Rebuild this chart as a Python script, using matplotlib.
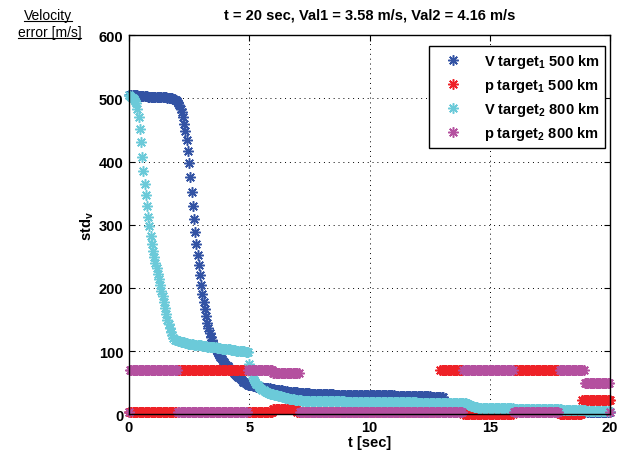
import numpy as np
import matplotlib
matplotlib.use('Agg')
import matplotlib.pyplot as plt
from matplotlib.lines import Line2D

plt.rcParams['font.family'] = ['Liberation Sans', 'DejaVu Sans']
plt.rcParams['mathtext.fontset'] = 'custom'
plt.rcParams['mathtext.bf'] = 'Liberation Sans:bold'
plt.rcParams['mathtext.rm'] = 'Liberation Sans'
plt.rcParams['mathtext.default'] = 'bf'

# sample times, 0.05 s step, 0 .. 20 sec
t = np.arange(401) * 0.05

# velocity std, target 1 (500 km)
v_target1 = (
    [505] * 8 + [504] * 8 + [503] * 8 + [502] * 8 + [501] * 4 + [500, 499, 498, 497]
    + [496, 493, 489, 484, 478, 470, 460, 448, 434, 417,
       397, 375, 352, 330, 309, 289, 270, 252, 236, 220,
       205, 191, 178, 166, 155, 145, 136, 129,
       122, 117, 112, 108, 104, 100, 97, 94, 91, 88,
       85, 83, 80, 78, 76, 74, 72, 70, 68, 66,
       64, 62, 61, 59, 57, 56, 54, 52, 51, 49,
       48, 47, 46]
    + [46, 46, 45, 45, 45, 44, 44, 44, 43, 43,
       43, 42, 42, 42, 41, 41, 41, 40, 40, 40,
       40, 39, 39, 39, 38, 38, 38, 37, 37, 37,
       37, 36, 36, 36, 36, 35, 35, 35, 35, 35]
    + [34] * 10 + [33] * 10 + [32] * 10 + [31] * 20 + [30] * 30 + [29] * 30 + [28] * 11
    + [16] * 19 + [14, 13, 12, 11, 10, 9, 9, 8, 8, 8] + [8] * 30
    + [7] * 20 + [6] * 20 + [5] * 20 + [4] * 19 + [3.58]
)

# velocity std, target 2 (800 km)
v_target2 = (
    [505, 504, 503, 501, 499, 496,
     492, 484, 470, 452, 431, 407, 385, 365, 347, 330,
     313, 298, 283, 270, 259, 249, 240, 231, 222, 214,
     205, 196, 187, 178, 169, 159, 150, 143, 137, 131,
     126, 121, 118, 117]
    + [117, 116, 116, 115, 115, 114, 114, 113, 113, 112,
       112, 112, 111, 111, 110, 110, 110, 109, 109, 109,
       109, 108, 108, 108, 108, 107, 107, 107, 107, 106,
       106, 106, 106, 105, 105, 105, 105, 104, 104, 104,
       104, 103, 103, 103, 103, 102, 102, 102, 102, 101,
       101, 101, 101, 100, 100, 100, 100, 99, 99, 99]
    + [80, 70, 63, 58, 54, 51, 48, 46, 44, 42,
       40, 39, 38, 37, 36, 35, 34, 33, 32.5, 32]
    + [31.5, 31, 30.5, 30, 29.5, 29, 28.5, 28, 27.5, 27,
       26.5, 26, 25.5, 25, 24.7, 24.4, 24.1, 23.8, 23.5, 23.2]
    + [23, 22.7, 22.4, 22.1, 21.8, 21.5, 21.3, 21.1, 21, 21] + [20.8] * 10
    + [20.5] * 20 + [20] * 20 + [19.5] * 20 + [19] * 20 + [18.5] * 20 + [18] * 20
    + [18, 17, 16, 15, 14, 13, 12.5, 12, 11.5, 11, 10.5, 10.5] + [10] * 8
    + [10] * 10 + [9.5] * 10 + [9] * 20 + [8] * 20 + [7] * 20
    + [6] * 10 + [5] * 10 + [4.16]
)

# position std: levels and how many samples each level lasts
p1_levels = [4, 70, 4, 8, 4, 70, 1, 70, 1, 22]
p1_counts = [40, 59, 21, 20, 119, 19, 42, 38, 19, 24]
p2_levels = [4, 70, 4, 70, 65, 3, 70, 3, 70, 50, 3]
p2_counts = [1, 40, 58, 21, 22, 136, 42, 38, 21, 21, 1]

p_target1 = np.repeat(p1_levels, p1_counts)
p_target2 = np.repeat(p2_levels, p2_counts)

labels = ['V target$_1$ 500 km', 'p target$_1$ 500 km',
          'V target$_2$ 800 km', 'p target$_2$ 800 km']
colors = ['#3353a4', '#ee2127', '#6bcad9', '#b4509f']

fig = plt.figure(figsize=(6.2, 4.6), dpi=100)
ax = fig.add_axes([0.208, 0.097, 0.776, 0.8243])

star = (8, 2, 0)
for y, lab, c in zip([v_target1, p_target1, v_target2, p_target2], labels, colors):
    ax.plot(t, y, linestyle='none', marker=star, markersize=7.5, markeredgewidth=1.1,
            color=c, markeredgecolor=c, label=lab, clip_on=False)

ax.set_xlim(0, 20)
ax.set_ylim(0, 600)
ax.set_xticks([0, 5, 10, 15, 20])
ax.set_yticks(range(0, 601, 100))
ax.tick_params(direction='in', top=True, right=True, length=4, width=0.8,
               labelsize=10.5, pad=4)
for lbl in ax.get_xticklabels() + ax.get_yticklabels():
    lbl.set_fontweight('bold')
ax.grid(True, color='black', linestyle=(0, (1, 4)), linewidth=0.7)
for s in ax.spines.values():
    s.set_linewidth(1.0)

ax.set_xlabel('t [sec]', fontsize=10.5, fontweight='bold', labelpad=1)
ax.set_ylabel('std$_v$', fontsize=10.5, fontweight='bold', labelpad=2)
ax.set_title('t = 20 sec, Val1 = 3.58 m/s, Val2 = 4.16 m/s',
             fontsize=10.5, fontweight='bold', pad=12)

leg = ax.legend(loc='upper right', bbox_to_anchor=(0.99, 0.972), borderaxespad=0,
                numpoints=1, prop={'weight': 'bold', 'size': 10.5},
                fancybox=False, framealpha=1, edgecolor='black',
                handlelength=2.6, handletextpad=0.8, labelspacing=0.42, borderpad=0.4)
leg.get_frame().set_linewidth(1.0)

# underlined unit label in the top left corner
t1 = fig.text(0.078, 0.965, 'Velocity', fontsize=10, ha='center', va='center')
t2 = fig.text(0.080, 0.928, 'error [m/s]', fontsize=10, ha='center', va='center')
fig.canvas.draw()
r = fig.canvas.get_renderer()
for txt in (t1, t2):
    bb = txt.get_window_extent(r).transformed(fig.transFigure.inverted())
    fig.add_artist(Line2D([bb.x0, bb.x1], [bb.y0 + 0.002, bb.y0 + 0.002],
                          color='black', linewidth=0.8))

fig.savefig('out.png', dpi=100)
